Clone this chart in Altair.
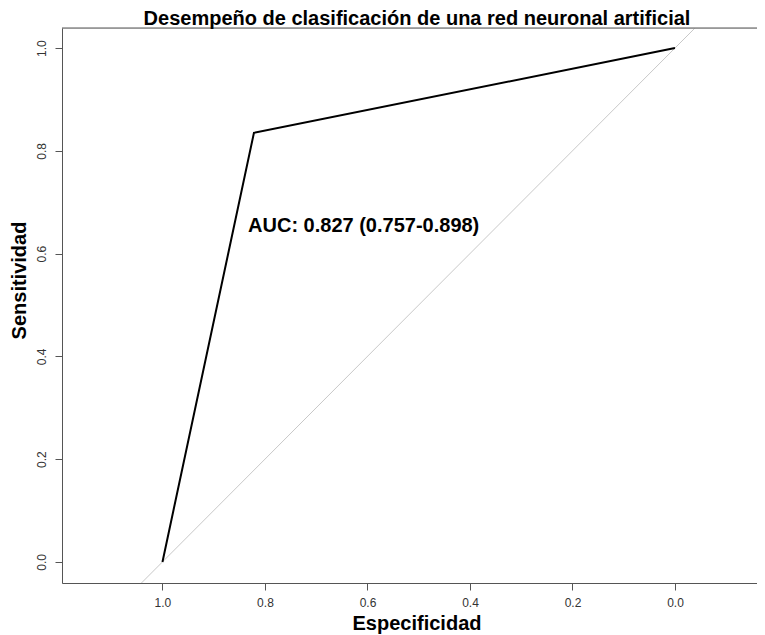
import altair as alt
import pandas as pd

# ROC curve points (specificity, sensitivity)
roc_spec = [1.0, 0.8215, 0.0]
roc_sens = [0.0, 0.835, 1.0]

# reference (chance) diagonal endpoints in specificity
diag_spec = [1.2, -0.2]

tick_values = [0.0, 0.2, 0.4, 0.6, 0.8, 1.0]
auc_label = "AUC: 0.827 (0.757-0.898)"
auc_pos = (0.833, 0.642)

title_text = "Desempeño de clasificación de una red neuronal artificial"
x_title = "Especificidad"
y_title = "Sensitividad"

FONT = "Liberation Sans"
W, H = 695, 555
x_dom = [-0.160, 1.196]
y_dom = [-0.041, 1.039]

roc_df = pd.DataFrame({"spec": roc_spec, "sens": roc_sens, "i": range(len(roc_spec))})
diag_df = pd.DataFrame({"spec": diag_spec, "sens": [1 - s for s in diag_spec], "i": [0, 1]})
auc_df = pd.DataFrame({"spec": [auc_pos[0]], "sens": [auc_pos[1]], "label": [auc_label]})
title_df = pd.DataFrame({"label": [title_text]})

xs = alt.Scale(domain=x_dom, reverse=True, nice=False, zero=False)
ys = alt.Scale(domain=y_dom, nice=False, zero=False)

x_axis = alt.Axis(values=tick_values, format=".1f", title=x_title, grid=False,
                  tickSize=7, tickColor="#555555", domainColor="#555555",
                  labelFont=FONT, labelFontSize=12, labelColor="#333333", labelPadding=7,
                  titleFont=FONT, titleFontSize=20, titleFontWeight="bold", titleColor="#000000",
                  titleX=354.5, titleY=46, titleBaseline="alphabetic", titleAlign="center")
y_axis = alt.Axis(values=tick_values, format=".1f", title=y_title, grid=False,
                  tickSize=7, tickColor="#555555", domainColor="#555555",
                  labelFont=FONT, labelFontSize=12, labelColor="#333333", labelPadding=7,
                  labelAngle=270,
                  titleFont=FONT, titleFontSize=20, titleFontWeight="bold", titleColor="#000000",
                  titleX=-43, titleY=252, titleAngle=270, titleBaseline="middle", titleAlign="center")

diag = alt.Chart(diag_df).mark_line(color="#c8c8c8", strokeWidth=1, clip=True).encode(
    x=alt.X("spec:Q", scale=xs, axis=x_axis),
    y=alt.Y("sens:Q", scale=ys, axis=y_axis),
    order="i:Q",
)
roc = alt.Chart(roc_df).mark_line(color="#000000", strokeWidth=2).encode(
    x=alt.X("spec:Q", scale=xs),
    y=alt.Y("sens:Q", scale=ys),
    order="i:Q",
)
auc = alt.Chart(auc_df).mark_text(align="left", baseline="alphabetic", font=FONT,
                                  fontSize=20, fontWeight="bold", color="#000000").encode(
    x=alt.X("spec:Q", scale=xs),
    y=alt.Y("sens:Q", scale=ys),
    text="label:N",
)
top_rule = alt.Chart(auc_df).mark_rule(color="#555555", strokeWidth=1).encode(
    x=alt.value(0), x2=alt.value(W), y=alt.value(0)
)
title = alt.Chart(title_df).mark_text(align="center", baseline="alphabetic", font=FONT,
                                      fontSize=20, fontWeight="bold", color="#000000").encode(
    x=alt.value(355), y=alt.value(-3), text="label:N"
)

chart = alt.layer(diag, roc, auc, top_rule, title).properties(
    width=W, height=H,
    autosize=alt.AutoSizeParams(type="none"),
    padding={"left": 54, "top": 20, "right": 0, "bottom": 51},
).configure_view(stroke=None).configure(background="white")

chart.save("out.html", embed_options={"renderer": "svg", "actions": False})
